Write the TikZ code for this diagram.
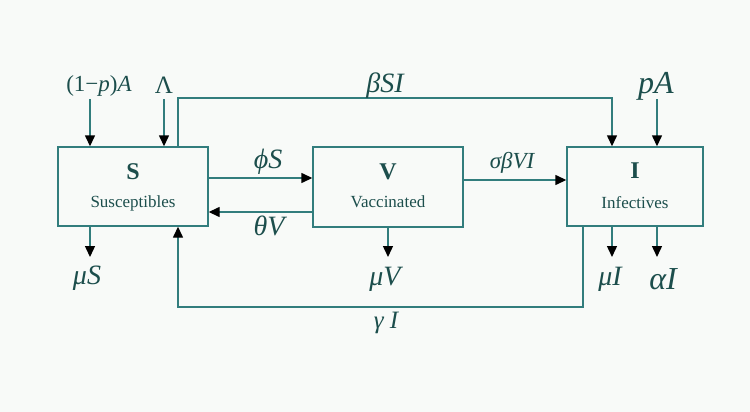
\documentclass[tikz,border=0pt]{standalone}
\usepackage{fontspec}
\setmainfont{Liberation Serif}
\usetikzlibrary{arrows.meta}
\definecolor{ln}{RGB}{50,125,125}
\definecolor{tx}{RGB}{28,78,76}
\definecolor{bg}{RGB}{248,250,248}
\begin{document}
\begin{tikzpicture}[x=1pt,y=-1pt,
  box/.style={draw=ln,line width=1.4pt,inner sep=0pt},
  flow/.style={draw=ln,line width=1.4pt,-{Triangle[length=11pt,width=10pt,black]}},
  ttl/.style={text=tx,font=\fontsize{24}{24}\selectfont\bfseries,inner sep=0pt},
  nm/.style={text=tx,font=\fontsize{17}{17}\selectfont,inner sep=0pt},
  lab/.style={text=tx,font=\fontsize{28}{28}\selectfont\itshape,inner sep=0pt},
  labs/.style={text=tx,font=\fontsize{23}{23}\selectfont\itshape,inner sep=0pt},
  labb/.style={text=tx,font=\fontsize{32}{32}\selectfont\itshape,inner sep=0pt}
]
\fill[bg] (0,0) rectangle (750,412);
\useasboundingbox (0,0) rectangle (750,412);
% boxes
\node[box,minimum width=150pt,minimum height=79pt] (S) at (133,186.5) {};
\node[box,minimum width=150pt,minimum height=80pt] (V) at (388,187) {};
\node[box,minimum width=136pt,minimum height=79pt] (I) at (635,186.5) {};
\node[ttl] (St) at (133,172) {S};
\node[nm] (Sn) at (133,203) {Susceptibles};
\node[ttl] (Vt) at (388,172) {V};
\node[nm] (Vn) at (388,202) {Vaccinated};
\node[ttl] (It) at (635,171) {I};
\node[nm] (In) at (635,203) {Infectives};
% inflows
\node[labs] (lA) at (99,86) {\upshape(1−\textit{p})\textit{A}};
\coordinate (cA) at (90,99);
\draw[flow] (cA) -- (cA |- S.north);
\node[labs,font=\fontsize{25}{25}\selectfont] (lL) at (164,85) {Λ};
\coordinate (cL) at (164,99);
\draw[flow] (cL) -- (cL |- S.north);
\node[labb] (lp) at (656,86) {pA};
\coordinate (cp) at (657,99);
\draw[flow] (cp) -- (cp |- I.north);
% infection
\coordinate (b1) at (178,98);
\coordinate (b2) at (612,98);
\draw[flow] (b1 |- S.north) -- (b1) -- (b2) -- (b2 |- I.north);
\node[lab] (lb) at (385,86) {βSI};
% S <-> V
\draw[flow] ([yshift=8.5pt]S.east) -- ([yshift=8.5pt]S.east -| V.west);
\node[lab] (lphi) at (268,162) {ϕS};
\draw[flow] ([yshift=-25pt]V.west) -- ([yshift=-25pt]V.west -| S.east);
\node[lab] (ltheta) at (269,226) {θV};
% V -> I
\draw[flow] ([yshift=7pt]V.east) -- ([yshift=7pt]V.east -| I.west);
\node[labs] (lsig) at (512,163) {σβVI};
% outflows
\coordinate (mS) at (90,257);
\draw[flow] (mS |- S.south) -- (mS);
\node[lab] (lmS) at (87,278) {μS};
\coordinate (mV) at (388,257);
\draw[flow] (V.south) -- (mV);
\node[lab] (lmV) at (385,279) {μV};
\coordinate (mI) at (612,257);
\draw[flow] (mI |- I.south) -- (mI);
\node[lab] (lmI) at (610,279) {μI};
\coordinate (aI) at (657,257);
\draw[flow] (aI |- I.south) -- (aI);
\node[labb] (laI) at (663,279) {αI};
% recovery
\coordinate (g1) at (583,307);
\coordinate (g2) at (178,307);
\draw[flow] (g1 |- I.south) -- (g1) -- (g2) -- (g2 |- S.south);
\node[labs,font=\fontsize{25}{25}\selectfont\itshape] (lg) at (386,323) {γ I};
\end{tikzpicture}
\end{document}
